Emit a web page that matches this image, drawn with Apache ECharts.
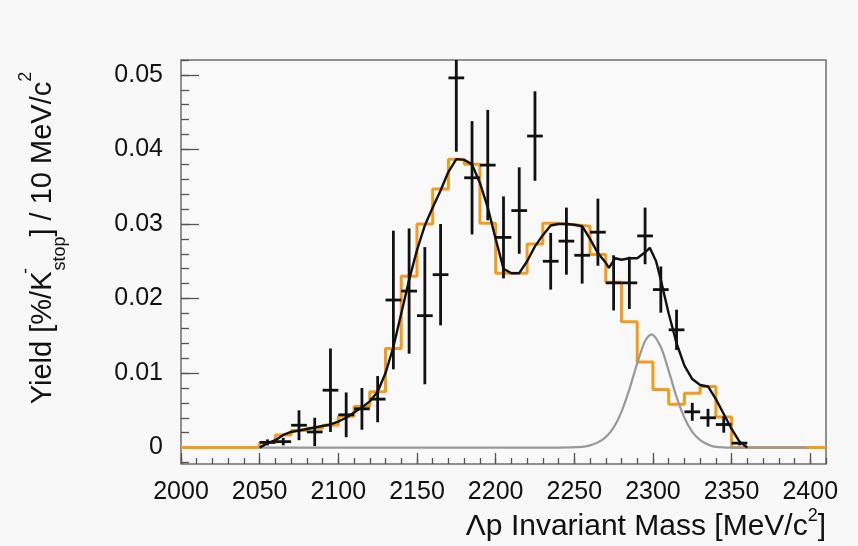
<!DOCTYPE html>
<html>
<head>
<meta charset="utf-8">
<script src="https://cdn.jsdelivr.net/npm/echarts@6/dist/echarts.min.js"></script>
<style>
html,body{margin:0;padding:0;background:#f8f8f8;}
#chart{width:858px;height:546px;}
</style>
</head>
<body>
<div id="chart"></div>
<script>
// ---------- data ----------
const xTickValues = [2000, 2050, 2100, 2150, 2200, 2250, 2300, 2350, 2400];
const xTickLabels = ['2000', '2050', '2100', '2150', '2200', '2250', '2300', '2350', '2400'];
const yTickValues = [0, 0.01, 0.02, 0.03, 0.04, 0.05];
const yTickLabels = ['0', '0.01', '0.02', '0.03', '0.04', '0.05'];

// orange histogram: 10 MeV bins starting at 2000
const histStart = 2000;
const histBinWidth = 10;
const histValues = [
  0, 0, 0, 0, 0,
  0.0007, 0.0017, 0.0023, 0.0026, 0.0030,
  0.0042, 0.0055, 0.0075, 0.0133, 0.0230,
  0.0300, 0.0347, 0.0387, 0.0380, 0.0301,
  0.0234, 0.0234, 0.0273, 0.0301, 0.0299,
  0.0297, 0.0259, 0.0222, 0.0169, 0.0115,
  0.0078, 0.0058, 0.0073, 0.0082, 0.0041,
  0, 0, 0, 0, 0, 0
];

// black data points with error bars
const dataMass = [2055, 2065, 2075, 2085, 2095, 2105, 2115, 2125, 2135, 2145,
  2155, 2165, 2175, 2185, 2195, 2205, 2215, 2225, 2235, 2245,
  2255, 2265, 2275, 2285, 2295, 2305, 2315, 2325, 2335, 2345, 2355];
const dataYield = [0.0007, 0.0008, 0.0030, 0.0021, 0.0077, 0.0044, 0.0052, 0.0065, 0.0198, 0.0210,
  0.0177, 0.0232, 0.0496, 0.0362, 0.0379, 0.0282, 0.0318, 0.0418, 0.0250, 0.0277,
  0.0258, 0.0289, 0.0221, 0.0221, 0.0284, 0.0212, 0.0158, 0.0048, 0.0040, 0.0031, 0.0006];
const dataError = [0.0004, 0.0005, 0.0020, 0.0019, 0.0056, 0.0030, 0.0028, 0.0031, 0.0093, 0.0084,
  0.0092, 0.0068, 0.0099, 0.0076, 0.0074, 0.0055, 0.0058, 0.0060, 0.0038, 0.0045,
  0.0038, 0.0045, 0.0037, 0.0035, 0.0038, 0.0031, 0.0027, 0.0012, 0.0012, 0.0011, 0.0003];
const binHalfWidth = 5;

// black total fit curve
const fitMass = [2050, 2055, 2060, 2065, 2070, 2075, 2080, 2085, 2090, 2095,
  2100, 2105, 2110, 2115, 2120, 2125, 2130, 2135, 2140, 2145,
  2150, 2155, 2160, 2165, 2170, 2175, 2180, 2185, 2190, 2195,
  2200, 2205, 2210, 2215, 2220, 2225, 2230, 2235, 2240, 2245,
  2250, 2255, 2260, 2265, 2270, 2272, 2276, 2280, 2285, 2290,
  2295, 2298, 2302, 2305, 2310, 2315, 2320, 2325, 2330, 2335,
  2340, 2345, 2350, 2355, 2360];
const fitYield = [0.0000, 0.0006, 0.0010, 0.0017, 0.0021, 0.0023, 0.0025, 0.0027, 0.0029, 0.0031,
  0.0035, 0.0040, 0.0047, 0.0054, 0.0062, 0.0075, 0.0100, 0.0135, 0.0180, 0.0225,
  0.0265, 0.0298, 0.0322, 0.0345, 0.0370, 0.0387, 0.0386, 0.0380, 0.0355, 0.0322,
  0.0280, 0.0240, 0.0234, 0.0234, 0.0250, 0.0270, 0.0285, 0.0298, 0.0300, 0.0300,
  0.0299, 0.0297, 0.0280, 0.0261, 0.0248, 0.0241, 0.0254, 0.0252, 0.0254, 0.0254,
  0.0262, 0.0268, 0.0250, 0.0225, 0.0180, 0.0140, 0.0110, 0.0092, 0.0084, 0.0082,
  0.0065, 0.0045, 0.0025, 0.0008, 0.0000];

// grey peak component
const peakMass = [2050, 2240, 2255, 2260, 2265, 2270, 2275, 2280, 2285, 2290,
  2295, 2299, 2305, 2310, 2315, 2320, 2325, 2330, 2335, 2340, 2350, 2398];
const peakYield = [0, 0, 0.0001, 0.0003, 0.0007, 0.0014, 0.0027, 0.0048, 0.0078, 0.0113,
  0.0143, 0.0152, 0.0135, 0.0103, 0.0068, 0.0040, 0.0021, 0.0010, 0.0004, 0.0001, 0, 0];

// ---------- build series data ----------
const histData = histValues.map((v, i) => [histStart + i * histBinWidth, v]);
histData.push([histStart + histValues.length * histBinWidth, 0]);
const pointsData = dataMass.map((m, i) => [m, dataYield[i], dataError[i]]);
const fitData = fitMass.map((m, i) => [m, fitYield[i]]);
const peakData = peakMass.map((m, i) => [m, peakYield[i]]);

const xMinorTicks = [];
for (let v = 2000; v <= 2410; v += 10) xMinorTicks.push(v);
const yMinorTicks = [];
for (let k = -1; k <= 26; k++) yMinorTicks.push(+(k * 0.002).toFixed(4));

const FONT = "'Liberation Sans', Arial, Helvetica, sans-serif";
const X_MIN = 2000, X_MAX = 2410, Y_MIN = -0.0022, Y_MAX = 0.052;

const chart = echarts.init(document.getElementById('chart'), null, {renderer: 'canvas'});
chart.setOption({
  backgroundColor: '#f8f8f8',
  animation: false,
  grid: {
    left: 181, top: 60, right: 32, bottom: 82,
    show: true, borderColor: '#6e6e6e', borderWidth: 1.5, backgroundColor: '#f9f9f9'
  },
  xAxis: [{
    type: 'value', min: X_MIN, max: X_MAX, position: 'bottom',
    axisLine: {show: false, onZero: false},
    splitLine: {show: false},
    axisTick: {show: true, inside: true, length: 11, customValues: xTickValues,
      lineStyle: {color: '#555', width: 1.3}},
    axisLabel: {show: true, customValues: xTickValues, margin: 16,
      formatter: v => xTickLabels[xTickValues.indexOf(v)] || '',
      fontFamily: FONT, fontSize: 25, color: '#111'}
  }, {
    type: 'value', min: X_MIN, max: X_MAX, position: 'bottom',
    axisLine: {show: false, onZero: false},
    splitLine: {show: false},
    axisTick: {show: true, inside: true, length: 6, customValues: xMinorTicks,
      lineStyle: {color: '#555', width: 1.3}},
    axisLabel: {show: false}
  }],
  yAxis: [{
    type: 'value', min: Y_MIN, max: Y_MAX, position: 'left',
    axisLine: {show: false, onZero: false},
    splitLine: {show: false},
    axisTick: {show: true, inside: true, length: 18, customValues: yTickValues,
      lineStyle: {color: '#555', width: 1.3}},
    axisLabel: {show: true, customValues: yTickValues, margin: 18,
      formatter: v => {
        const i = yTickValues.findIndex(t => Math.abs(t - v) < 1e-9);
        return i >= 0 ? yTickLabels[i] : '';
      },
      fontFamily: FONT, fontSize: 25, color: '#111'}
  }, {
    type: 'value', min: Y_MIN, max: Y_MAX, position: 'left',
    axisLine: {show: false, onZero: false},
    splitLine: {show: false},
    axisTick: {show: true, inside: true, length: 8, customValues: yMinorTicks,
      lineStyle: {color: '#555', width: 1.3}},
    axisLabel: {show: false}
  }],
  series: [{
    name: 'histogram', type: 'line', step: 'end',
    data: histData, showSymbol: false, symbol: 'none', z: 2,
    lineStyle: {color: '#f39c1c', width: 3}
  }, {
    name: 'peak', type: 'line', smooth: 0.3,
    data: peakData, showSymbol: false, symbol: 'none', z: 3,
    lineStyle: {color: '#999', width: 2.2}
  }, {
    name: 'fit', type: 'line',
    data: fitData, showSymbol: false, symbol: 'none', z: 4,
    lineStyle: {color: '#111', width: 2.4}
  }, {
    name: 'data', type: 'custom', z: 5, clip: true,
    data: pointsData,
    renderItem: function (params, api) {
      const x = api.value(0), y = api.value(1), e = api.value(2);
      const c = api.coord([x, y]);
      const t = api.coord([x, y + e]);
      const b = api.coord([x, y - e]);
      const l = api.coord([x - binHalfWidth, y]);
      const r = api.coord([x + binHalfWidth, y]);
      const st = {stroke: '#111', lineWidth: 2.8};
      return {
        type: 'group',
        children: [
          {type: 'line', shape: {x1: c[0], y1: t[1], x2: c[0], y2: b[1]}, style: st},
          {type: 'line', shape: {x1: l[0], y1: c[1], x2: r[0], y2: c[1]}, style: st}
        ]
      };
    }
  }],
  graphic: [{
    type: 'text', x: 43, y: 238, rotation: Math.PI / 2, z: 10,
    style: {
      text: 'Yield [%/K{supm|-}{sub|stop}] / 10 MeV/c{sup|2}',
      align: 'center', verticalAlign: 'middle',
      fontFamily: FONT, fontSize: 29, fill: '#111',
      rich: {
        sup: {fontFamily: FONT, fontSize: 18, lineHeight: 25, verticalAlign: 'top', fill: '#111'},
        supm: {fontFamily: FONT, fontSize: 18, lineHeight: 30, verticalAlign: 'top', fill: '#111', width: 1},
        sub: {fontFamily: FONT, fontSize: 18, lineHeight: 18, verticalAlign: 'bottom', fill: '#111'}
      },
      lineHeight: 52
    }
  }, {
    type: 'text', x: 826, y: 527, z: 10,
    style: {
      text: 'Λp Invariant Mass [MeV/c{sup|2}]',
      align: 'right', verticalAlign: 'middle',
      fontFamily: FONT, fontSize: 30, fill: '#111',
      rich: {
        sup: {fontFamily: FONT, fontSize: 18, lineHeight: 21, verticalAlign: 'top', fill: '#111'}
      },
      lineHeight: 40
    }
  }]
});
</script>
</body>
</html>
